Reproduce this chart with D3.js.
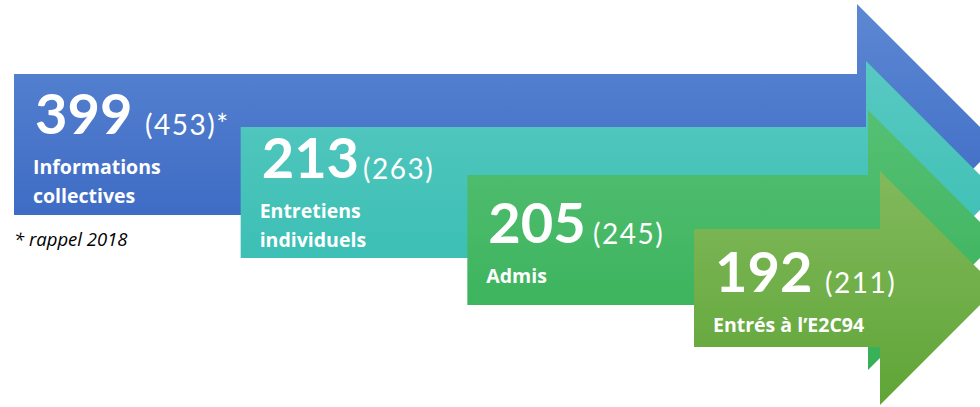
<!DOCTYPE html>
<html>
<head>
<meta charset="utf-8">
<script src="https://cdn.jsdelivr.net/npm/d3@7"></script>
<style>
  html, body { margin: 0; padding: 0; background: #ffffff; }
  svg { display: block; }
  text { font-family: Lato, "Open Sans", "DejaVu Sans", sans-serif; font-variant-ligatures: none; }
  text.lbl, text.note { font-family: "Open Sans", Lato, "DejaVu Sans", sans-serif; }
</style>
</head>
<body>
<svg id="chart" width="980" height="407"></svg>
<script>
// ---------- DATA ----------
const stages = ["Informations collectives", "Entretiens individuels", "Admis", "Entrés à l’E2C94"];
const labelLines = [["Informations", "collectives"], ["Entretiens", "individuels"], ["Admis"], ["Entrés à l’E2C94"]];
const values2019 = [399, 213, 205, 192];
const values2018 = [453, 263, 245, 211];
const previousSuffix = ["*", "", "", ""];
const footnote = "* rappel 2018";

// ---------- LAYOUT ----------
const W = 980, H = 407;
const bodyTop    = [74, 127, 175, 229];
const bodyBottom = [215, 258, 305, 347];
const headX      = [857, 866, 868, 880];
const headTop    = [4, 61, 110, 171];
const numDy      = [60, 51, 68, 63];     // baseline of big number below body top
const prevX      = [145, 363, 593, 825]; // x of "(previous)" text
const colorsTop    = ["#5C88D3", "#58C9C2", "#55C074", "#82B95C"];
const colorsBottom = ["#3563C0", "#33BCB0", "#36B057", "#5FA537"];

const x = d3.scalePoint().domain(stages).range([14, 694]);

const svg = d3.select("#chart");
const defs = svg.append("defs");
stages.forEach((s, i) => {
  const g = defs.append("linearGradient")
    .attr("id", "grad" + i).attr("x1", 0).attr("y1", 0).attr("x2", 0).attr("y2", 1);
  g.append("stop").attr("offset", "0%").attr("stop-color", colorsTop[i]);
  g.append("stop").attr("offset", "100%").attr("stop-color", colorsBottom[i]);
});

function arrowPath(i) {
  const x0 = x(stages[i]);
  const t = bodyTop[i], b = bodyBottom[i];
  const c = (t + b) / 2;
  const hx = headX[i], ht = headTop[i];
  const hb = 2 * c - ht;
  const tip = hx + (c - ht);
  const p = d3.path();
  p.moveTo(x0, t);
  p.lineTo(hx, t);
  p.lineTo(hx, ht);
  p.lineTo(tip, c);
  p.lineTo(hx, hb);
  p.lineTo(hx, b);
  p.lineTo(x0, b);
  p.closePath();
  return p.toString();
}

const groups = svg.selectAll("g.stage")
  .data(stages)
  .join("g")
  .attr("class", "stage");

groups.append("path")
  .attr("d", (d, i) => arrowPath(i))
  .attr("fill", (d, i) => `url(#grad${i})`);

// big number
groups.append("text")
  .attr("x", (d, i) => x(d) + 21)
  .attr("y", (d, i) => bodyTop[i] + numDy[i])
  .attr("fill", "#ffffff")
  .attr("font-weight", 700)
  .attr("font-size", 56)
  .text((d, i) => values2019[i]);

// previous year
groups.append("text")
  .attr("x", (d, i) => prevX[i])
  .attr("y", (d, i) => bodyTop[i] + numDy[i] + 1)
  .attr("fill", "#ffffff")
  .attr("font-weight", 400)
  .attr("font-size", 28)
  .attr("letter-spacing", 1.5)
  .text((d, i) => "(" + values2018[i] + ")" + previousSuffix[i]);

// labels
groups.each(function (d, i) {
  const g = d3.select(this);
  labelLines[i].forEach((line, j) => {
    g.append("text")
      .attr("class", "lbl")
      .attr("x", x(d) + 19)
      .attr("y", bodyTop[i] + numDy[i] + 40 + j * 29)
      .attr("fill", "#ffffff")
      .attr("font-weight", 700)
      .attr("font-size", 19.5)
      .text(line);
  });
});

svg.append("text")
  .attr("class", "note")
  .attr("x", x(stages[0]))
  .attr("y", 246)
  .attr("fill", "#000000")
  .attr("font-style", "italic")
  .attr("font-size", 18.5)
  .text(footnote);
</script>
</body>
</html>
